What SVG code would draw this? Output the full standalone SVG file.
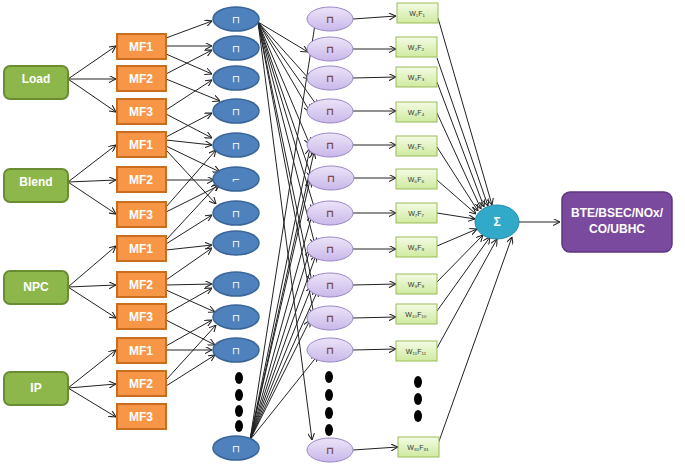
<svg xmlns="http://www.w3.org/2000/svg" width="685" height="466" viewBox="0 0 685 466">
<defs>
<marker id="a" viewBox="0 0 10 10" refX="10" refY="5" markerWidth="7" markerHeight="7" orient="auto"><path d="M0,0 L10,5 L0,10" fill="none" stroke="#222" stroke-width="1.5"/></marker>
<linearGradient id="gg" x1="0" y1="0" x2="0" y2="1"><stop offset="0" stop-color="#f4fbe4"/><stop offset="1" stop-color="#cfeaa0"/></linearGradient>
<linearGradient id="pg" x1="0" y1="0" x2="0" y2="1"><stop offset="0" stop-color="#ece4f8"/><stop offset="1" stop-color="#c9b8ea"/></linearGradient>
</defs>
<style>
.in{fill:#8db74a;stroke:#6a8d34;stroke-width:2}
.mf{fill:#f79646;stroke:#c96d1e;stroke-width:2}
.bl{fill:#4f81bd;stroke:#3a6597;stroke-width:1.5}
.pu{fill:url(#pg);stroke:#9a86c8;stroke-width:1}
.w{fill:url(#gg);stroke:#9bbb59;stroke-width:1}
.t{font-family:"Liberation Sans",Arial,sans-serif;fill:#fff;font-size:12px;text-anchor:middle;font-weight:bold}
.s{font-family:"Liberation Sans",Arial,sans-serif;font-size:7px;text-anchor:middle;fill:#333}
.p{font-family:"DejaVu Sans",sans-serif;font-size:10px;text-anchor:middle}
#c line{stroke:#222;stroke-width:1;marker-end:url(#a)}
</style>
<g id="c">
<!-- inputs to MF -->
<line x1="68" y1="79" x2="116" y2="46"/><line x1="68" y1="79" x2="116" y2="79"/><line x1="68" y1="79" x2="116" y2="112"/>
<line x1="68" y1="182" x2="116" y2="145"/><line x1="68" y1="182" x2="116" y2="180"/><line x1="68" y1="182" x2="116" y2="214"/>
<line x1="68" y1="287" x2="116" y2="246"/><line x1="68" y1="287" x2="116" y2="285"/><line x1="68" y1="287" x2="116" y2="318"/>
<line x1="68" y1="388" x2="116" y2="350"/><line x1="68" y1="388" x2="116" y2="384"/><line x1="68" y1="388" x2="116" y2="417"/>
<!-- MF to blue -->
<line x1="166" y1="38" x2="212" y2="21"/><line x1="166" y1="46" x2="212" y2="46"/><line x1="166" y1="54" x2="212" y2="74"/>
<line x1="166" y1="74" x2="212" y2="50"/><line x1="166" y1="79" x2="220" y2="101"/>
<line x1="166" y1="110" x2="212" y2="80"/><line x1="166" y1="114" x2="212" y2="138"/>
<line x1="166" y1="137" x2="212" y2="113"/><line x1="166" y1="140" x2="212" y2="145"/><line x1="166" y1="146" x2="220" y2="172"/><line x1="166" y1="150" x2="216" y2="204"/>
<line x1="166" y1="180" x2="214" y2="180"/>
<line x1="166" y1="207" x2="216" y2="150"/><line x1="166" y1="212" x2="220" y2="185"/>
<line x1="166" y1="240" x2="218" y2="184"/><line x1="166" y1="244" x2="212" y2="215"/><line x1="166" y1="250" x2="212" y2="245"/>
<line x1="166" y1="280" x2="212" y2="248"/><line x1="166" y1="285" x2="212" y2="284"/><line x1="166" y1="290" x2="215" y2="312"/>
<line x1="166" y1="314" x2="212" y2="288"/><line x1="166" y1="320" x2="215" y2="345"/>
<line x1="166" y1="346" x2="212" y2="320"/><line x1="166" y1="350" x2="212" y2="350"/>
<line x1="166" y1="380" x2="216" y2="325"/><line x1="166" y1="386" x2="215" y2="355"/>
<!-- blue top to purples -->
<line x1="258" y1="22" x2="308" y2="52"/><line x1="258" y1="22" x2="310" y2="80"/><line x1="258" y1="22" x2="318" y2="107"/>
<line x1="258" y1="22" x2="310" y2="112"/><line x1="258" y1="22" x2="312" y2="178"/><line x1="258" y1="22" x2="315" y2="210"/>
<line x1="258" y1="22" x2="315" y2="245"/><line x1="258" y1="22" x2="312" y2="282"/><line x1="258" y1="22" x2="314" y2="315"/>
<line x1="258" y1="22" x2="312" y2="440"/><line x1="258" y1="22" x2="310" y2="145"/>
<!-- blue bottom to purples -->
<line x1="250" y1="440" x2="316" y2="18"/><line x1="250" y1="440" x2="310" y2="148"/><line x1="250" y1="440" x2="310" y2="180"/>
<line x1="250" y1="440" x2="314" y2="152"/><line x1="250" y1="440" x2="312" y2="215"/><line x1="250" y1="440" x2="310" y2="250"/>
<line x1="250" y1="440" x2="312" y2="286"/><line x1="250" y1="440" x2="310" y2="320"/><line x1="250" y1="440" x2="318" y2="355"/>
<line x1="250" y1="440" x2="316" y2="255"/><line x1="250" y1="440" x2="318" y2="290"/>
<!-- purple to weights -->
<line x1="353" y1="19" x2="396" y2="16"/><line x1="353" y1="49" x2="396" y2="49"/><line x1="353" y1="78" x2="396" y2="77"/>
<line x1="353" y1="111" x2="396" y2="111"/><line x1="353" y1="145" x2="396" y2="145"/><line x1="353" y1="178" x2="396" y2="178"/>
<line x1="353" y1="213" x2="396" y2="213"/><line x1="353" y1="249" x2="396" y2="249"/><line x1="353" y1="285" x2="396" y2="284"/>
<line x1="353" y1="318" x2="396" y2="317"/><line x1="353" y1="350" x2="396" y2="349"/><line x1="353" y1="450" x2="398" y2="447"/>
<!-- weights to sigma -->
<line x1="438" y1="18" x2="492" y2="205"/><line x1="437" y1="58" x2="488" y2="206"/><line x1="437" y1="82" x2="484" y2="207"/>
<line x1="437" y1="113" x2="481" y2="209"/><line x1="437" y1="147" x2="478" y2="211"/><line x1="437" y1="180" x2="476" y2="214"/>
<line x1="437" y1="213" x2="475" y2="219"/><line x1="437" y1="246" x2="477" y2="229"/><line x1="437" y1="282" x2="483" y2="235"/>
<line x1="437" y1="311" x2="490" y2="237"/><line x1="437" y1="348" x2="497" y2="239"/><line x1="438" y1="444" x2="512" y2="237"/>
<line x1="519" y1="222" x2="560" y2="222"/>
</g>
<g id="inputs">
<rect class="in" x="4" y="66" width="64" height="33" rx="6"/><text class="t" x="36" y="83">Load</text>
<rect class="in" x="4" y="169" width="64" height="33" rx="6"/><text class="t" x="36" y="186">Blend</text>
<rect class="in" x="4" y="271" width="64" height="33" rx="6"/><text class="t" x="36" y="291">NPC</text>
<rect class="in" x="4" y="372" width="64" height="33" rx="6"/><text class="t" x="36" y="392">IP</text>
</g>
<g id="mfs">
<rect class="mf" x="117" y="34" width="49" height="25"/><text class="t" x="141" y="51">MF1</text>
<rect class="mf" x="117" y="66" width="49" height="25"/><text class="t" x="141" y="83">MF2</text>
<rect class="mf" x="117" y="99" width="49" height="25"/><text class="t" x="141" y="116">MF3</text>
<rect class="mf" x="117" y="132" width="49" height="25"/><text class="t" x="141" y="149">MF1</text>
<rect class="mf" x="117" y="167" width="49" height="25"/><text class="t" x="141" y="184">MF2</text>
<rect class="mf" x="117" y="202" width="49" height="25"/><text class="t" x="141" y="219">MF3</text>
<rect class="mf" x="117" y="236" width="49" height="25"/><text class="t" x="141" y="253">MF1</text>
<rect class="mf" x="117" y="272" width="49" height="25"/><text class="t" x="141" y="289">MF2</text>
<rect class="mf" x="117" y="304" width="49" height="25"/><text class="t" x="141" y="321">MF3</text>
<rect class="mf" x="117" y="338" width="49" height="25"/><text class="t" x="141" y="355">MF1</text>
<rect class="mf" x="117" y="371" width="49" height="25"/><text class="t" x="141" y="388">MF2</text>
<rect class="mf" x="117" y="404" width="49" height="25"/><text class="t" x="141" y="421">MF3</text>
</g>
<g id="rules" fill="#fff">
<ellipse class="bl" cx="236" cy="19" rx="23" ry="12"/><ellipse class="bl" cx="236" cy="48" rx="23" ry="12"/>
<ellipse class="bl" cx="236" cy="78" rx="23" ry="12"/><ellipse class="bl" cx="236" cy="111" rx="23" ry="12"/>
<ellipse class="bl" cx="236" cy="145" rx="23" ry="12"/><ellipse class="bl" cx="236" cy="179" rx="23" ry="12"/>
<ellipse class="bl" cx="236" cy="213" rx="23" ry="12"/><ellipse class="bl" cx="236" cy="243" rx="23" ry="12"/>
<ellipse class="bl" cx="236" cy="284" rx="23" ry="12"/><ellipse class="bl" cx="236" cy="317" rx="23" ry="12"/>
<ellipse class="bl" cx="236" cy="350" rx="23" ry="12"/><ellipse class="bl" cx="236" cy="448" rx="23" ry="12"/>
<g class="p" fill="#fff">
<text x="236" y="23">⊓</text><text x="236" y="52">⊓</text><text x="236" y="82">⊓</text><text x="236" y="115">⊓</text>
<text x="236" y="149">⊓</text><text x="236" y="183">⌐</text><text x="236" y="217">⊓</text><text x="236" y="247">⊓</text>
<text x="236" y="288">⊓</text><text x="236" y="321">⊓</text><text x="236" y="354">⊓</text><text x="236" y="452">⊓</text>
</g>
<g fill="#000"><ellipse cx="239" cy="378" rx="4" ry="6"/><ellipse cx="239" cy="395" rx="4" ry="6"/><ellipse cx="239" cy="411" rx="4" ry="6"/><ellipse cx="239" cy="426" rx="4" ry="6"/></g>
</g>
<g id="norm">
<ellipse class="pu" cx="330" cy="19" rx="23" ry="12"/><ellipse class="pu" cx="330" cy="49" rx="23" ry="12"/>
<ellipse class="pu" cx="330" cy="78" rx="23" ry="12"/><ellipse class="pu" cx="330" cy="111" rx="23" ry="12"/>
<ellipse class="pu" cx="330" cy="145" rx="23" ry="12"/><ellipse class="pu" cx="331" cy="178" rx="23" ry="12"/>
<ellipse class="pu" cx="330" cy="213" rx="23" ry="12"/><ellipse class="pu" cx="330" cy="249" rx="23" ry="12"/>
<ellipse class="pu" cx="330" cy="285" rx="23" ry="12"/><ellipse class="pu" cx="330" cy="318" rx="23" ry="12"/>
<ellipse class="pu" cx="330" cy="350" rx="23" ry="12"/><ellipse class="pu" cx="330" cy="450" rx="23" ry="12"/>
<g class="p" fill="#7a4a50" font-weight="bold">
<text x="330" y="23">⊓</text><text x="330" y="53">⊓</text><text x="330" y="82">⊓</text><text x="330" y="115">⊓</text>
<text x="330" y="149">⊓</text><text x="331" y="182">⊓</text><text x="330" y="217">⊓</text><text x="330" y="253">⊓</text>
<text x="330" y="289">⊓</text><text x="330" y="322">⊓</text><text x="330" y="354">⊓</text><text x="330" y="454">⊓</text>
</g>
<g fill="#000"><ellipse cx="329" cy="377" rx="4" ry="6"/><ellipse cx="329" cy="395" rx="4" ry="6"/><ellipse cx="329" cy="413" rx="4" ry="6"/><ellipse cx="329" cy="430" rx="4" ry="6"/></g>
</g>
<g id="weights">
<rect class="w" x="397" y="3" width="41" height="20"/><text class="s" x="417" y="16">W₁F₁</text>
<rect class="w" x="396" y="37" width="41" height="20"/><text class="s" x="416" y="50">W₂F₂</text>
<rect class="w" x="396" y="67" width="41" height="20"/><text class="s" x="416" y="80">W₃F₃</text>
<rect class="w" x="396" y="102" width="41" height="20"/><text class="s" x="416" y="115">W₄F₄</text>
<rect class="w" x="396" y="136" width="41" height="20"/><text class="s" x="416" y="149">W₅F₅</text>
<rect class="w" x="396" y="169" width="41" height="20"/><text class="s" x="416" y="182">W₆F₆</text>
<rect class="w" x="396" y="203" width="41" height="20"/><text class="s" x="416" y="216">W₇F₇</text>
<rect class="w" x="396" y="237" width="41" height="20"/><text class="s" x="416" y="250">W₈F₈</text>
<rect class="w" x="396" y="274" width="41" height="20"/><text class="s" x="416" y="287">W₉F₉</text>
<rect class="w" x="396" y="304" width="41" height="20"/><text class="s" x="416" y="317">W₁₀F₁₀</text>
<rect class="w" x="396" y="341" width="41" height="20"/><text class="s" x="416" y="354">W₁₁F₁₁</text>
<g fill="#000"><ellipse cx="418" cy="382" rx="4" ry="6"/><ellipse cx="418" cy="399" rx="4" ry="6"/><ellipse cx="418" cy="416" rx="4" ry="6"/></g>
<rect class="w" x="398" y="437" width="41" height="20"/><text class="s" x="418" y="450">W₈₁F₈₁</text>
</g>
<g id="sum">
<ellipse cx="497" cy="222" rx="22" ry="17" fill="#31a9c9" stroke="#2688a3"/>
<text class="t" x="497" y="226" font-weight="normal">Σ</text>
</g>
<g id="output">
<rect x="562" y="192" width="110" height="60" rx="8" fill="#7a4a9e" stroke="#5e3680" stroke-width="1.5"/>
<text class="t" x="617" y="217" font-size="11">BTE/BSEC/NOx/</text>
<text class="t" x="617" y="233" font-size="11">CO/UBHC</text>
</g>
</svg>
